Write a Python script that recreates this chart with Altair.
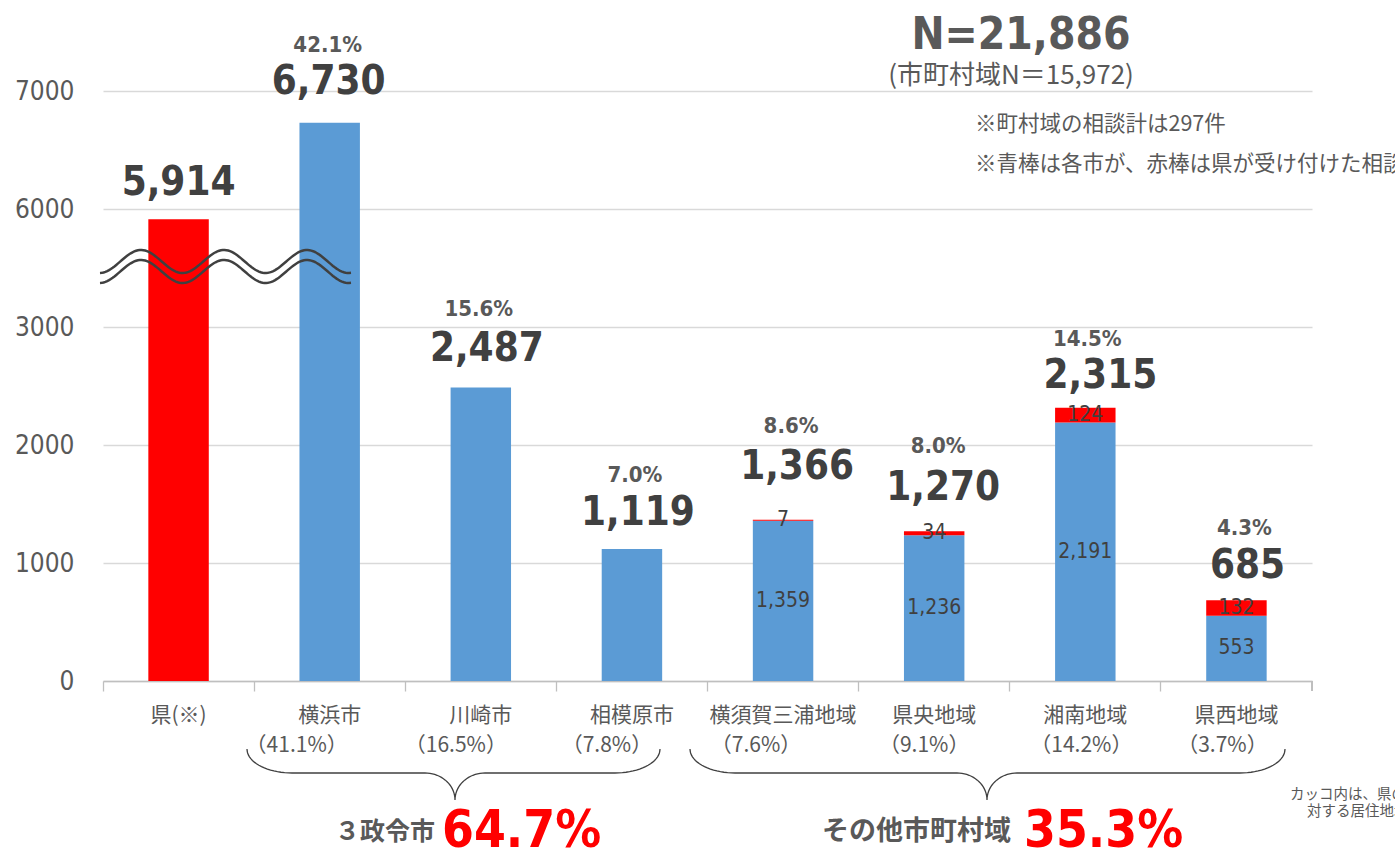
import altair as alt
import pandas as pd
import numpy as np

# ---------------- data ----------------
categories = ["県(※)", "横浜市", "川崎市", "相模原市", "横須賀三浦地域", "県央地域", "湘南地域", "県西地域"]
city_counts = [0, 6730, 2487, 1119, 1359, 1236, 2191, 553]
pref_counts = [5914, 0, 0, 0, 7, 34, 124, 132]
totals = [5914, 6730, 2487, 1119, 1366, 1270, 2315, 685]
share_labels = ["", "42.1%", "15.6%", "7.0%", "8.6%", "8.0%", "14.5%", "4.3%"]
pop_labels = ["", "（41.1%）", "（16.5%）", "（7.8%）", "（7.6%）", "（9.1%）", "（14.2%）", "（3.7%）"]
inner_label_cats = ["横須賀三浦地域", "県央地域", "湘南地域", "県西地域"]
y_tick_labels = [0, 1000, 2000, 3000, 6000, 7000]
group_names = ["３政令市", "その他市町村域"]
group_shares = ["64.7%", "35.3%"]
n_total = "N=21,886"
n_city = "(市町村域N＝15,972)"
notes = ["※町村域の相談計は297件", "※青棒は各市が、赤棒は県が受け付けた相談件数"]
foot_notes = ["カッコ内は、県の人口に", "対する居住地域の人口割合"]

AXIS_BREAK = 2000      # amount cut out of the axis (3000 -> 6000)
BREAK_FROM = 3000

# ---------------- layout / style ----------------
BLUE = "#5B9BD5"
RED = "#FF0000"
DARK = "#404040"
GRAY = "#595959"
NUM_FONT = "DejaVu Sans Condensed, DejaVu Sans"
JP_FONT = "Noto Sans CJK JP"
W, H = 1209, 681
OX = 103  # plot origin x in page pixels
# label nudges (pixels) as placed by hand in the original
total_dx = [0, -1, 6, 6, 14, 9, 15, 11]
total_dy = [-24, -29, -27, -24, -41, -31, -20, -22]
share_dx = [0, -2, -2, 3, 8, 4, 2, 8]
share_dy = [0, -71, -72, -67, -87, -78, -62, -65]
pop_dx = [0, -33, -25, -25, -27, -10, -4, -14]


def plotted(v, shift):
    return max(v - shift, 0) if v > 0 else 0


seg_rows, inner_rows, total_rows = [], [], []
for i, c in enumerate(categories):
    shift = AXIS_BREAK if totals[i] > BREAK_FROM else 0
    c_top = plotted(city_counts[i], shift)
    p_top = plotted(city_counts[i] + pref_counts[i], shift)
    if city_counts[i] > 0:
        seg_rows.append(dict(cat=c, seg="市", y0=0, y1=c_top))
        if c in inner_label_cats:
            inner_rows.append(dict(cat=c, mid=c_top / 2, label=f"{city_counts[i]:,}"))
    if pref_counts[i] > 0:
        seg_rows.append(dict(cat=c, seg="県", y0=c_top, y1=p_top))
        if c in inner_label_cats:
            inner_rows.append(dict(cat=c, mid=(c_top + p_top) / 2, label=f"{pref_counts[i]:,}"))
    total_rows.append(dict(cat=c, top=p_top, total=f"{totals[i]:,}", share=share_labels[i],
                           pop=pop_labels[i]))

seg_df = pd.DataFrame(seg_rows)
inner_df = pd.DataFrame(inner_rows)
tot_df = pd.DataFrame(total_rows)

y_positions = [t if t <= BREAK_FROM else t - AXIS_BREAK for t in y_tick_labels]
Y_MAX = H / 0.118

xscale = alt.Scale(domain=categories, paddingInner=0, paddingOuter=0)
yscale = alt.Scale(domain=[0, Y_MAX], nice=False, zero=True)
xenc = alt.X("cat:N", sort=categories, scale=xscale)

bars = alt.Chart(seg_df).mark_bar(width=alt.RelativeBandSize(0.4)).encode(
    x=alt.X("cat:N", sort=categories, scale=xscale,
            axis=alt.Axis(labels=False, title=None, bandPosition=0, tickSize=10,
                          tickColor="#bfbfbf", tickWidth=1.3, domainColor="#bfbfbf",
                          domainWidth=1.3, grid=False)),
    y=alt.Y("y0:Q", scale=yscale,
            axis=alt.Axis(values=y_positions, title=None, domain=False, ticks=False,
                          labelPadding=29, labelFontSize=26, labelColor=GRAY,
                          labelFont=NUM_FONT, gridColor="#d9d9d9", gridWidth=1.3,
                          labelExpr=f"datum.value > {BREAK_FROM} ? format(datum.value + {AXIS_BREAK}, 'd') : format(datum.value, 'd')")),
    y2="y1:Q",
    color=alt.Color("seg:N", scale=alt.Scale(domain=["市", "県"], range=[BLUE, RED]), legend=None),
)

end_tick = alt.Chart(tot_df).mark_rule(color="#bfbfbf", strokeWidth=1.3).encode(
    x=alt.value(W), y=alt.value(H), y2=alt.value(H + 10))

base_t = alt.Chart(tot_df)
cat_text = base_t.mark_text(font=JP_FONT, fontSize=21, color=GRAY, baseline="middle").encode(
    x=xenc, y=alt.value(716), text="cat:N")
inner_text = alt.Chart(inner_df).mark_text(font=NUM_FONT, fontSize=21, color=DARK, baseline="middle").encode(
    x=xenc, y=alt.Y("mid:Q", scale=yscale), text="label:N")

label_layers = []
for i, c in enumerate(categories):
    one = base_t.transform_filter(alt.datum.cat == c)
    label_layers.append(one.mark_text(
        font=NUM_FONT, fontSize=40, fontWeight="bold", color=DARK, baseline="alphabetic",
        dx=total_dx[i], dy=total_dy[i]).encode(
        x=xenc, y=alt.Y("top:Q", scale=yscale), text="total:N"))
    if share_labels[i]:
        label_layers.append(one.mark_text(
            font=NUM_FONT, fontSize=22, fontWeight="bold", color=GRAY, baseline="alphabetic",
            dx=share_dx[i], dy=share_dy[i]).encode(
            x=xenc, y=alt.Y("top:Q", scale=yscale), text="share:N"))
    if pop_labels[i]:
        label_layers.append(one.mark_text(
            font=JP_FONT, fontSize=21, color=GRAY, baseline="middle", dx=pop_dx[i]).encode(
            x=xenc, y=alt.value(746), text="pop:N"))

# ---- decorations: axis-break wave lines and braces (pixel space) ----
wx = np.linspace(100, 351, 140)
wave_rows = []
for k, off in enumerate([0, 10]):
    wy = 261.5 + off - 11.5 * np.cos(2 * np.pi * (wx - 141) / 83)
    for j, (a, b) in enumerate(zip(wx, wy)):
        wave_rows.append(dict(px=a - OX, py=b, line=k, o=j))
wave = alt.Chart(pd.DataFrame(wave_rows)).mark_line(color=DARK, strokeWidth=2.5).encode(
    x=alt.X("px:Q", scale=None), y=alt.Y("py:Q", scale=None), detail="line:N", order="o:Q")


def brace(xl, xr, xt, ytop=749, ymid=773, ybot=800, r_end=45, r_tip=30):
    t = np.linspace(0, np.pi / 2, 20)
    xs = list(xl + r_end * (1 - np.cos(t))) + list(xt - r_tip + r_tip * np.sin(t))
    ys = list(ytop + (ymid - ytop) * np.sin(t)) + list(ymid + (ybot - ymid) * (1 - np.cos(t)))
    tr = t[::-1]
    xs += list(xt + r_tip - r_tip * np.sin(tr)) + list(xr - r_end * (1 - np.cos(tr)))
    ys += list(ymid + (ybot - ymid) * (1 - np.cos(tr))) + list(ytop + (ymid - ytop) * np.sin(tr))
    return xs, ys


br_rows = []
for k, (xl, xr, xt) in enumerate([(247, 660, 455), (690, 1285, 987)]):
    xs, ys = brace(xl, xr, xt)
    for j, (a, b) in enumerate(zip(xs, ys)):
        br_rows.append(dict(px=a - OX, py=b, line=k, o=j))
braces = alt.Chart(pd.DataFrame(br_rows)).mark_line(color=DARK, strokeWidth=1.3).encode(
    x=alt.X("px:Q", scale=None), y=alt.Y("py:Q", scale=None), detail="line:N", order="o:Q")


def label(txt, x, y, size, color=GRAY, font=JP_FONT, weight="normal", align="left", baseline="alphabetic"):
    return alt.Chart(pd.DataFrame({"t": [txt]})).mark_text(
        font=font, fontSize=size, fontWeight=weight, color=color, align=align, baseline=baseline
    ).encode(x=alt.value(x - OX), y=alt.value(y), text="t:N")


annos = [
    label(n_total, 1021, 49, 44, font=NUM_FONT, weight="bold", align="center"),
    label(n_city, 1011, 84, 26, align="center"),
    label(notes[0], 975, 125, 21.5, baseline="middle"),
    label(notes[1], 975, 165, 21.5, baseline="middle"),
    label(foot_notes[0], 1290, 795, 14.5, baseline="middle"),
    label(foot_notes[1], 1307, 812, 14.5, baseline="middle"),
    label(group_names[0], 335, 840, 25, weight="bold"),
    label(group_shares[0], 442, 847, 51, color=RED, font=NUM_FONT, weight="bold"),
    label(group_names[1], 822, 840, 27, weight="bold"),
    label(group_shares[1], 1024, 847, 51, color=RED, font=NUM_FONT, weight="bold"),
]

chart = alt.layer(
    bars, end_tick, cat_text, inner_text, *label_layers, wave, braces, *annos
).properties(
    width=W, height=H,
    autosize=alt.AutoSizeParams(type="none"),
    padding={"left": OX, "top": 0, "right": 1395 - OX - W, "bottom": 850 - H},
    background="white",
).configure_view(stroke=None)

chart.save("out.html", embed_options={"renderer": "svg", "actions": False})
